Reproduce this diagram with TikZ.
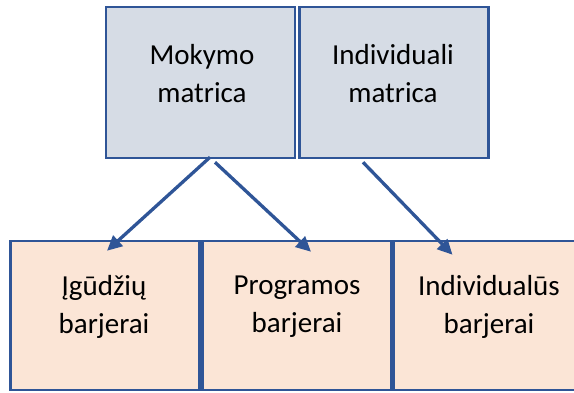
\documentclass[tikz,border=0pt]{standalone}
\usepackage{fontspec}
\setmainfont{Carlito}
\usetikzlibrary{arrows.meta}
\definecolor{edgeblue}{HTML}{2F5597}
\definecolor{topfill}{HTML}{D6DCE5}
\definecolor{lowfill}{HTML}{FBE5D6}
\begin{document}
\begin{tikzpicture}[x=1pt,y=1pt,
	box/.style={draw=edgeblue,line width=2.5pt,minimum width=189pt,inner sep=0pt},
	topbox/.style={box,fill=topfill,minimum height=151pt},
	lowbox/.style={box,fill=lowfill,minimum height=149pt},
	txt/.style={align=center,font=\fontsize{29}{38}\selectfont},
	arr/.style={draw=edgeblue,line width=3.3pt,-{Triangle[length=15pt,width=14pt]}}]
	\useasboundingbox (0,0) rectangle (574,392);
	\node [topbox](mokymo) at (200.5,309.5) {};
	\node [topbox](indiv) at (394,309.5) {};
	\node [lowbox](igudz) at (105,76.5) {};
	\node [lowbox](progr) at (297,76.5) {};
	\node [lowbox,minimum width=220pt](indbar) at (503.5,76.5) {};

	\node [txt](mokymoT) at (202,318) {Mokymo\\matrica};
	\node [txt](indivT) at (393,318) {Individuali\\matrica};
	\node [txt](igudzT) at (104,85) {Įgūdžių\\barjerai};
	\node [txt](progrT) at (297,85) {Programos\\barjerai};
	\node [txt](indbarT) at (489,85) {Individualūs\\barjerai};

	\draw [arr] ([xshift=9.5pt,yshift=2pt]mokymo.south) -- ([xshift=2pt,yshift=-11pt]igudz.north);
	\draw [arr] ([xshift=14.5pt,yshift=-3pt]mokymo.south) -- ([xshift=14pt,yshift=-12pt]progr.north);
	\draw [arr] ([xshift=-31pt,yshift=-3pt]indiv.south) -- ([xshift=-51pt,yshift=-15pt]indbar.north);
\end{tikzpicture}
\end{document}
